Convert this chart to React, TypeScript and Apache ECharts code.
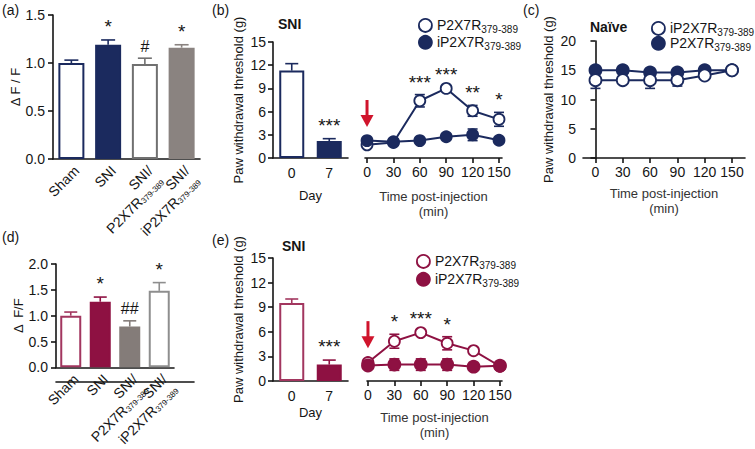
import React, { useEffect, useRef } from 'react';
import * as echarts from 'echarts';

// ---------- data ----------
const SUB = '379-389';
// (a) ΔF/F, navy set
const catsA = ['Sham', 'SNI', 'SNI/|P2X7R', 'SNI/|iP2X7R'];
const meanA = [1.0, 1.19, 0.99, 1.16];
const errA = [0.03, 0.05, 0.06, 0.03];
const marksA = ['', '*', '#', '*'];

// (b) SNI, bars by day
const daysB = ['0', '7'];
const meanBbar = [11.3, 2.2];
const errBbar = [0.9, 0.3];
const marksBbar = ['', '***'];
// (b) time course
const timeMin = [0, 30, 60, 90, 120, 150];
const bP2X7R = [1.7, 2.0, 7.4, 9.0, 6.1, 5.0];
const bP2X7RErr = [0.2, 0.2, 0.8, 0.2, 0.7, 0.9];
const biP2X7R = [2.25, 2.1, 2.25, 2.75, 3.0, 2.3];
const biP2X7RErr = [0.15, 0.15, 0.15, 0.2, 0.75, 0.15];
const marksBline = ['', '', '***', '***', '**', '*'];
const arrowB = [0, 7.5, 4.0];

// (c) naive
const ciP2X7R = [13.3, 13.3, 13.3, 13.3, 14.1, 15.0];
const ciP2X7RErr = [1.4, 0.4, 1.4, 1.0, 0.3, 0.2];
const cP2X7R = [15.0, 15.0, 14.6, 14.6, 15.0, 15.0];
const cP2X7RErr = [0.3, 0.3, 0.3, 0.3, 0.3, 0.2];

// (d) ΔF/F, crimson set
const catsD = ['Sham', 'SNI', 'SNI/|P2X7R', 'SNI/|iP2X7R'];
const meanD = [1.0, 1.27, 0.79, 1.48];
const errD = [0.07, 0.09, 0.11, 0.16];
const marksD = ['', '*', '##', '*'];

// (e) SNI crimson
const daysE = ['0', '7'];
const meanEbar = [9.5, 2.0];
const errEbar = [0.5, 0.55];
const marksEbar = ['', '***'];
const eP2X7R = [2.25, 4.85, 5.9, 4.6, 3.7, 1.8];
const eP2X7RErr = [0.15, 0.85, 0.2, 0.8, 0.2, 0.2];
const eiP2X7R = [1.9, 2.0, 2.0, 2.0, 1.75, 1.85];
const eiP2X7RErr = [0.15, 0.7, 0.7, 0.7, 0.2, 0.3];
const marksEline = ['', '*', '***', '*', '', ''];
const arrowE = [0, 7.3, 4.0];

// ---------- styles ----------
const FONT = '"Liberation Sans", Arial, Helvetica, sans-serif';
const INK = '#151515';
const NAVY = '#1b2a5e';
const CRIM = '#8e1142';
const CRIM_L = '#a2365f';
const GRAY_B = '#707070';
const GRAY_F = '#8a8380';
const GRAY_F2 = '#847c79';
const GRAY_L = '#8e8e8e';
const RED = '#d0142c';

const stylesA = [
  { fill: '#fff', stroke: NAVY },
  { fill: NAVY, stroke: NAVY },
  { fill: '#fff', stroke: GRAY_B },
  { fill: GRAY_F, stroke: GRAY_F },
];
const stylesB = [
  { fill: '#fff', stroke: NAVY },
  { fill: NAVY, stroke: NAVY },
];
const stylesD = [
  { fill: '#fff', stroke: CRIM_L },
  { fill: CRIM, stroke: CRIM },
  { fill: GRAY_F2, stroke: GRAY_F2 },
  { fill: '#fff', stroke: GRAY_L },
];
const stylesE = [
  { fill: '#fff', stroke: CRIM_L },
  { fill: CRIM, stroke: CRIM },
];

const axisLine = { lineStyle: { color: INK, width: 1.6 } };
const axisTick = { length: 5, lineStyle: { color: INK, width: 1.6 } };
const tickFont = { color: INK, fontSize: 14, fontFamily: FONT };

const catLabel = (s: string) => {
  if (s.indexOf('|') < 0) return '{n|' + s + '}';
  const [a, b] = s.split('|');
  return '{n|' + a + '}\n{n|' + b + '}{s|' + SUB + '}';
};
const catRich = {
  n: { fontSize: 14, fontFamily: FONT, color: INK, lineHeight: 15 },
  s: { fontSize: 8, fontFamily: FONT, color: INK, lineHeight: 15, verticalAlign: 'bottom' },
};
const catAxisLabel = {
  interval: 0, rotate: 45, margin: 4, align: 'right', verticalAlign: 'top',
  rich: catRich, formatter: catLabel,
};

const legendRich = {
  a: { fontSize: 14, fontFamily: FONT, color: INK, lineHeight: 16, verticalAlign: 'middle' },
  s: { fontSize: 10, fontFamily: FONT, color: INK, lineHeight: 19, verticalAlign: 'bottom' },
};
const legendNames: Record<string, string> = {
  bP: 'P2X7R', biP: 'iP2X7R', cP: 'P2X7R', ciP: 'iP2X7R', eP: 'P2X7R', eiP: 'iP2X7R',
};

function barSeries(xi: number, data: number[], styles: any[], barWidth: number) {
  return {
    type: 'bar', xAxisIndex: xi, yAxisIndex: xi, barWidth, silent: true, z: 2,
    data: data.map((v, i) => ({
      value: v,
      itemStyle: { color: styles[i].fill, borderColor: styles[i].stroke, borderWidth: 2 },
    })),
  };
}

function errSeries(xi: number, xs: number[], mean: number[], err: number[], colors: string[], both: boolean, cap: number, z = 1) {
  return {
    type: 'custom', xAxisIndex: xi, yAxisIndex: xi, silent: true, z,
    data: xs.map((x, i) => [x, mean[i], err[i]]),
    renderItem: (params: any, api: any) => {
      const x = api.value(0), m = api.value(1), e = api.value(2);
      const c = colors[params.dataIndex % colors.length];
      const top = api.coord([x, m + e]);
      const bot = api.coord([x, both ? m - e : m]);
      const h = cap / 2;
      const st = { stroke: c, lineWidth: 1.6 };
      const ch: any[] = [
        { type: 'line', shape: { x1: top[0], y1: top[1], x2: bot[0], y2: bot[1] }, style: st },
        { type: 'line', shape: { x1: top[0] - h, y1: top[1], x2: top[0] + h, y2: top[1] }, style: st },
      ];
      if (both) ch.push({ type: 'line', shape: { x1: bot[0] - h, y1: bot[1], x2: bot[0] + h, y2: bot[1] }, style: st });
      return { type: 'group', children: ch };
    },
  };
}

function markSeries(xi: number, xs: number[], mean: number[], err: number[], marks: string[], offset: number) {
  return {
    type: 'custom', xAxisIndex: xi, yAxisIndex: xi, silent: true, z: 10,
    data: xs.map((x, i) => [x, mean[i] + err[i]]),
    renderItem: (params: any, api: any) => {
      const t = marks[params.dataIndex];
      if (!t) return null;
      const p = api.coord([api.value(0), api.value(1)]);
      const isHash = t.indexOf('#') >= 0;
      return {
        type: 'text', x: p[0], y: p[1] - offset,
        style: {
          text: t, fontSize: isHash ? 16 : 19, fontFamily: FONT, fill: INK,
          align: 'center', verticalAlign: 'bottom',
        },
      };
    },
  };
}

function arrowSeries(xi: number, arrow: number[]) {
  return {
    type: 'custom', xAxisIndex: xi, yAxisIndex: xi, silent: true, z: 10,
    data: [arrow],
    renderItem: (params: any, api: any) => {
      const a = api.coord([api.value(0), api.value(1)]);
      const b = api.coord([api.value(0), api.value(2)]);
      const hh = 12, hw = 13;
      return {
        type: 'group', children: [
          { type: 'line', shape: { x1: a[0], y1: a[1], x2: b[0], y2: b[1] - hh + 1 }, style: { stroke: RED, lineWidth: 3 } },
          { type: 'polygon', shape: { points: [[b[0] - hw / 2, b[1] - hh], [b[0] + hw / 2, b[1] - hh], [b[0], b[1]]] }, style: { fill: RED } },
        ],
      };
    },
  };
}

function lineSeries(xi: number, name: string, ys: number[], color: string, open: boolean, size: number, z: number) {
  return {
    type: 'line', name, xAxisIndex: xi, yAxisIndex: xi, silent: true, clip: false, z,
    data: timeMin.map((t, i) => [t, ys[i]]),
    symbol: 'circle', symbolSize: size,
    lineStyle: { color, width: 2 },
    itemStyle: { color: open ? '#fff' : color, borderColor: color, borderWidth: 1.8 },
  };
}

function legendFor(names: string[], color: string, opens: boolean[], left: number, top: number, gap: number) {
  return {
    orient: 'vertical', left, top, padding: 0, itemGap: gap,
    itemWidth: 13, itemHeight: 13, selectedMode: false,
    data: names.map((n, i) => ({
      name: n, icon: 'circle',
      itemStyle: { color: opens[i] ? '#fff' : color, borderColor: color, borderWidth: 1.8 },
    })),
    formatter: (n: string) => '{a|' + legendNames[n] + '}{s|' + SUB + '}',
    textStyle: { rich: legendRich },
  };
}

const yName = (name: string, gap: number) => ({
  name, nameLocation: 'middle', nameGap: gap,
  nameTextStyle: { fontSize: 13, fontFamily: FONT, color: INK },
});

function valueX(gi: number, min: number, max: number, customs: number[], extra: any = {}) {
  return {
    type: 'value', gridIndex: gi, min, max, axisLine, splitLine: { show: false },
    axisTick: { ...axisTick, customValues: customs },
    axisLabel: { ...tickFont, margin: 7, customValues: customs },
    ...extra,
  };
}

const timeName = {
  name: 'Time post-injection\n(min)', nameLocation: 'middle',
  nameTextStyle: { fontSize: 13, fontFamily: FONT, color: '#333', lineHeight: 15 },
};

const yVal = (gi: number, max: number, interval: number, margin: number, name: string, gap: number, fixed = false) => ({
  type: 'value', gridIndex: gi, min: 0, max, interval,
  axisLine: { show: true, ...axisLine }, axisTick: { show: true, ...axisTick },
  splitLine: { show: false },
  axisLabel: { ...tickFont, margin, ...(fixed ? { formatter: (v: number) => v.toFixed(1) } : {}) },
  ...yName(name, gap),
});

export default function App() {
  const ref = useRef<HTMLDivElement>(null);
  useEffect(() => {
    if (!ref.current) return;
    const chart = echarts.init(ref.current, undefined, { renderer: 'svg' });
    const idx4 = [0, 1, 2, 3];
    const idx2 = [0, 1];
    const option: any = {
      animation: false,
      backgroundColor: '#ffffff',
      textStyle: { fontFamily: FONT },
      grid: [
        { left: 53, top: 15, width: 147, height: 144 },
        { left: 273, top: 42, width: 75, height: 116 },
        { left: 365, top: 42, width: 137, height: 116 },
        { left: 583, top: 41, width: 162, height: 117 },
        { left: 56, top: 264, width: 118, height: 118 },
        { left: 273, top: 258, width: 75, height: 123 },
        { left: 367, top: 258, width: 135, height: 123 },
        { left: 56, top: 264, width: 138, height: 118 },
      ],
      xAxis: [
        {
          type: 'category', gridIndex: 0, data: catsA, axisLine, axisTick: { ...axisTick, alignWithLabel: true },
          axisLabel: catAxisLabel,
        },
        {
          type: 'category', gridIndex: 1, data: daysB, axisLine, axisTick: { ...axisTick, alignWithLabel: true },
          axisLabel: { ...tickFont, margin: 8 }, name: 'Day', nameLocation: 'middle', nameGap: 31,
          nameTextStyle: { fontSize: 13, fontFamily: FONT, color: INK },
        },
        valueX(2, -2.3, 153.4, timeMin, { ...timeName, nameGap: 31 }),
        valueX(3, -13.7, 164.3, timeMin, { ...timeName, nameGap: 28 }),
        {
          type: 'category', gridIndex: 4, data: catsD, axisLine, axisTick: { ...axisTick, alignWithLabel: true },
          axisLabel: catAxisLabel,
        },
        {
          type: 'category', gridIndex: 5, data: daysE, axisLine, axisTick: { ...axisTick, alignWithLabel: true },
          axisLabel: { ...tickFont, margin: 8 }, name: 'Day', nameLocation: 'middle', nameGap: 25,
          nameTextStyle: { fontSize: 13, fontFamily: FONT, color: INK },
        },
        valueX(6, -1.1, 152.3, timeMin, { ...timeName, nameGap: 29 }),
        {
          type: 'value', gridIndex: 7, min: 0, max: 1, axisLine, axisTick: { show: false },
          axisLabel: { show: false }, splitLine: { show: false },
        },
      ],
      yAxis: [
        yVal(0, 1.5, 0.5, 8, 'Δ F / F', 24, true),
        yVal(1, 15, 3, 7, 'Paw withdrawal threshold (g)', 28),
        { type: 'value', gridIndex: 2, min: 0, max: 15, show: false },
        yVal(3, 20, 5, 7, 'Paw withdrawal threshold (g)', 28),
        yVal(4, 2, 0.5, 8, 'Δ  F/F', 29, true),
        yVal(5, 15, 3, 7, 'Paw withdrawal threshold (g)', 28),
        { type: 'value', gridIndex: 6, min: 0, max: 15, show: false },
        { type: 'value', gridIndex: 7, min: 0, max: 1, show: false },
      ],
      legend: [
        legendFor(['bP', 'biP'], NAVY, [true, false], 418, 18, 0),
        legendFor(['ciP', 'cP'], NAVY, [true, false], 651, 21, -2),
        legendFor(['eP', 'eiP'], CRIM, [true, false], 416, 254, 1),
      ],
      series: [
        // (a)
        barSeries(0, meanA, stylesA, 26),
        errSeries(0, idx4, meanA, errA, stylesA.map((s) => s.stroke), false, 14, 1),
        markSeries(0, idx4, meanA, errA, marksA, 4),
        // (b) bars
        barSeries(1, meanBbar, stylesB, 25),
        errSeries(1, idx2, meanBbar, errBbar, stylesB.map((s) => s.stroke), false, 13, 1),
        markSeries(1, idx2, meanBbar, errBbar, marksBbar, 4),
        // (b) lines
        errSeries(2, timeMin, bP2X7R, bP2X7RErr, [NAVY], true, 10, 1),
        errSeries(2, timeMin, biP2X7R, biP2X7RErr, [NAVY], true, 10, 1),
        lineSeries(2, 'bP', bP2X7R, NAVY, true, 11, 3),
        lineSeries(2, 'biP', biP2X7R, NAVY, false, 11, 4),
        markSeries(2, timeMin, bP2X7R, bP2X7RErr, marksBline, 3),
        arrowSeries(2, arrowB),
        // (c)
        errSeries(3, timeMin, ciP2X7R, ciP2X7RErr, [NAVY], true, 10, 1),
        errSeries(3, timeMin, cP2X7R, cP2X7RErr, [NAVY], true, 10, 1),
        lineSeries(3, 'cP', cP2X7R, NAVY, false, 12, 3),
        lineSeries(3, 'ciP', ciP2X7R, NAVY, true, 12, 4),
        // (d)
        barSeries(4, meanD, stylesD, 21),
        errSeries(4, idx4, meanD, errD, stylesD.map((s) => s.stroke), false, 13, 1),
        markSeries(4, idx4, meanD, errD, marksD, 4),
        // (e) bars
        barSeries(5, meanEbar, stylesE, 25),
        errSeries(5, idx2, meanEbar, errEbar, stylesE.map((s) => s.stroke), false, 13, 1),
        markSeries(5, idx2, meanEbar, errEbar, marksEbar, 4),
        // (e) lines
        errSeries(6, timeMin, eP2X7R, eP2X7RErr, [CRIM], true, 10, 1),
        errSeries(6, timeMin, eiP2X7R, eiP2X7RErr, [CRIM], true, 10, 1),
        lineSeries(6, 'eP', eP2X7R, CRIM, true, 11, 3),
        lineSeries(6, 'eiP', eiP2X7R, CRIM, false, 12, 4),
        markSeries(6, timeMin, eP2X7R, eP2X7RErr, marksEline, 3),
        arrowSeries(6, arrowE),
      ],
      graphic: [
        { type: 'text', left: 2, top: 3, style: { text: '(a)', fontSize: 14, fontFamily: FONT, fill: INK } },
        { type: 'text', left: 212, top: 3, style: { text: '(b)', fontSize: 14, fontFamily: FONT, fill: INK } },
        { type: 'text', left: 523, top: 3, style: { text: '(c)', fontSize: 14, fontFamily: FONT, fill: INK } },
        { type: 'text', left: 2, top: 230, style: { text: '(d)', fontSize: 14, fontFamily: FONT, fill: INK } },
        { type: 'text', left: 212, top: 233, style: { text: '(e)', fontSize: 14, fontFamily: FONT, fill: INK } },
        { type: 'text', left: 278, top: 17, style: { text: 'SNI', fontSize: 14, fontWeight: 'bold', fontFamily: FONT, fill: INK } },
        { type: 'text', left: 590, top: 20, style: { text: 'Naïve', fontSize: 14, fontWeight: 'bold', fontFamily: FONT, fill: INK } },
        { type: 'text', left: 282, top: 239, style: { text: 'SNI', fontSize: 14, fontWeight: 'bold', fontFamily: FONT, fill: INK } },
      ],
    };
    chart.setOption(option);
    return () => chart.dispose();
  }, []);
  return (
    <div
      ref={ref}
      style={{ position: 'fixed', left: 0, top: 0, width: 755, height: 449, background: '#fff' }}
    />
  );
}
